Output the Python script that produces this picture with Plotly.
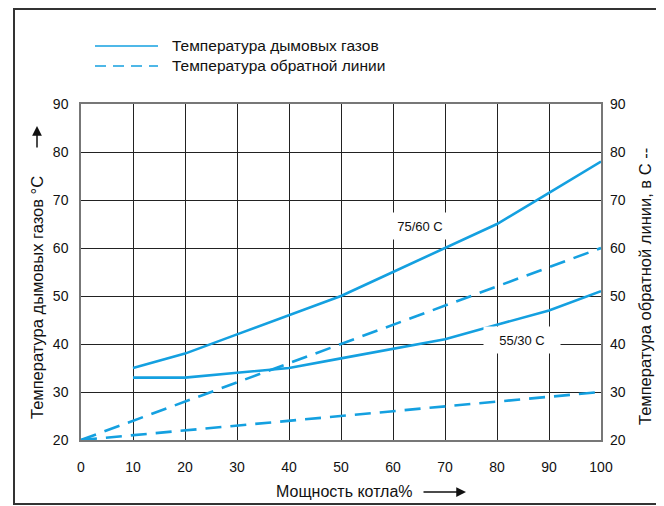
import plotly.graph_objects as go

# ---- data ----
power = [10, 20, 30, 40, 50, 60, 70, 80, 90, 100]
flue_75_60 = [35, 38, 42, 46, 50, 55, 60, 65, 71.5, 78]
flue_55_30 = [33, 33, 34, 35, 37, 39, 41, 44, 47, 51]
power_ret = [0, 10, 20, 30, 40, 50, 60, 70, 80, 90, 100]
return_75_60 = [20, 24, 28, 32, 36, 40, 44, 48, 52, 56, 60]
return_55_30 = [20, 21, 22, 23, 24, 25, 26, 27, 28, 29, 30]
x_ticks = [0, 10, 20, 30, 40, 50, 60, 70, 80, 90, 100]
y_ticks = [20, 30, 40, 50, 60, 70, 80, 90]

# the page adds an 8px body margin; work in screen pixels and shift
OFF = 8
W, H = 664 - OFF, 506 - OFF
L, R, T, B = 81 - OFF, 601 - OFF, 104 - OFF, 440 - OFF
BLUE = "#14a0e0"
FONT = "Liberation Sans, Arial, sans-serif"


def px(x):
    return (x - OFF - L) / (R - L)


def py(y):
    return (B - (y - OFF)) / (B - T)


fig = go.Figure()
for xs, ys, dash in [(power, flue_75_60, "solid"), (power, flue_55_30, "solid"),
                     (power_ret, return_75_60, "16px,9px"), (power_ret, return_55_30, "16px,9px")]:
    fig.add_trace(go.Scatter(x=xs, y=ys, mode="lines", showlegend=False,
                             line=dict(color=BLUE, width=2.6, dash=dash)))
# invisible trace on the right axis
fig.add_trace(go.Scatter(x=[0], y=[20], yaxis="y2", mode="markers",
                         marker=dict(opacity=0), showlegend=False, hoverinfo="skip"))

axis_common = dict(showgrid=True, gridcolor="#222", gridwidth=1,
                   showline=True, linecolor="#777", linewidth=1.5, mirror=True,
                   zeroline=False, ticks="", tickfont=dict(size=14, color="#111", family=FONT))
fig.update_layout(
    width=W, height=H, autosize=False,
    margin=dict(l=L, r=W - R, t=T, b=H - B),
    paper_bgcolor="white", plot_bgcolor="white",
    font=dict(family=FONT, size=14, color="#111"),
    xaxis=dict(range=[0, 100], tickvals=x_ticks, ticklabelstandoff=13, **axis_common),
    yaxis=dict(range=[20, 90], tickvals=y_ticks, ticklabelstandoff=8, **axis_common),
    yaxis2=dict(range=[20, 90], tickvals=y_ticks, overlaying="y", side="right",
                showgrid=False, zeroline=False, showline=False, ticks="",
                ticklabelstandoff=8, tickfont=dict(size=14, color="#111", family=FONT)),
)

shapes = []
# outer frame
shapes.append(dict(type="rect", xref="paper", yref="paper", layer="above",
                   x0=px(14), x1=px(661), y0=py(504), y1=py(9),
                   line=dict(color="#333", width=2)))
# legend samples
shapes.append(dict(type="line", xref="paper", yref="paper", x0=px(95), x1=px(158),
                   y0=py(46), y1=py(46), line=dict(color=BLUE, width=1.6)))
shapes.append(dict(type="line", xref="paper", yref="paper", x0=px(95), x1=px(158),
                   y0=py(66), y1=py(66), line=dict(color=BLUE, width=1.6, dash="11px,7px")))
fig.update_layout(shapes=shapes)

ann = []
ann.append(dict(xref="paper", yref="paper", x=px(170), y=py(46), xanchor="left", yanchor="middle",
                text="Температура дымовых газов", showarrow=False, font=dict(size=15.5)))
ann.append(dict(xref="paper", yref="paper", x=px(170), y=py(66), xanchor="left", yanchor="middle",
                text="Температура обратной линии", showarrow=False, font=dict(size=15.5)))
# curve labels
ann.append(dict(x=65.2, y=64.6, text="75/60 C", showarrow=False, bgcolor="white",
                width=66, height=24, font=dict(size=13)))
ann.append(dict(x=84.8, y=40.8, text="55/30 C", showarrow=False, bgcolor="white",
                width=74, height=24, font=dict(size=13)))
# axis titles
ann.append(dict(xref="paper", yref="paper", x=px(37), y=py(298), textangle=-90,
                text="Температура дымовых газов °C", showarrow=False,
                xanchor="center", yanchor="middle", font=dict(size=16.5)))
ann.append(dict(xref="paper", yref="paper", x=px(645), y=py(287), textangle=-90,
                text="Температура обратной линии, в С --", showarrow=False,
                xanchor="center", yanchor="middle", font=dict(size=16.5)))
ann.append(dict(xref="paper", yref="paper", x=px(344), y=py(492),
                text="Мощность котла%", showarrow=False,
                xanchor="center", yanchor="middle", font=dict(size=16)))
# arrows
ann.append(dict(xref="paper", yref="paper", x=px(37), y=py(126), ax=0, ay=23, text="",
                showarrow=True, arrowhead=2, arrowsize=1.3, arrowwidth=1.5, arrowcolor="#111"))
ann.append(dict(xref="paper", yref="paper", x=px(466), y=py(492), ax=-44, ay=0, text="",
                showarrow=True, arrowhead=2, arrowsize=1.3, arrowwidth=1.5, arrowcolor="#111"))
fig.update_layout(annotations=ann)

fig.write_html("out.html")
